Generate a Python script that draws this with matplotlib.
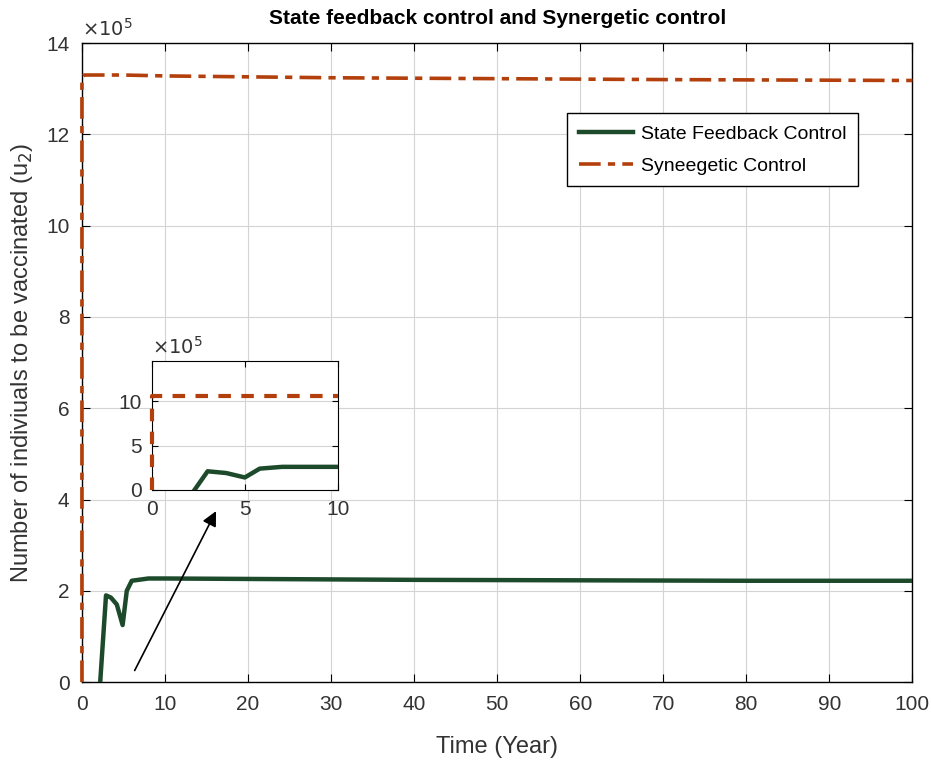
import matplotlib
matplotlib.use('Agg')
import matplotlib.pyplot as plt

plt.rcParams['font.family'] = ['Liberation Sans Narrow', 'Liberation Sans', 'DejaVu Sans']

# --- datos (unidades x10^5) ---
t_sfc = [2.2, 2.9, 3.5, 4.2, 4.9, 5.4, 6.0, 8.0, 10, 20, 40, 60, 80, 100]
u_sfc = [0, 1.9, 1.85, 1.7, 1.25, 2.0, 2.22, 2.27, 2.27, 2.26, 2.24, 2.23, 2.22, 2.22]

t_syn = [0, 0, 0.3, 5, 10, 30, 50, 70, 100]
u_syn = [0, 13.25, 13.3, 13.3, 13.28, 13.24, 13.22, 13.2, 13.18]

# inset (zoom 0-10 anos)
t_in_sfc = [2.3, 3.0, 4.0, 5.0, 5.8, 7.0, 10]
u_in_sfc = [0, 2.1, 1.9, 1.4, 2.4, 2.6, 2.6]
t_in_syn = [0, 0, 10]
u_in_syn = [0, 10.6, 10.6]

green = '#1e4a2c'
red = '#b3400c'
txt = '#333333'

fig = plt.figure(figsize=(9.31, 7.69), dpi=100)
ax = fig.add_axes([0.088, 0.113, 0.892, 0.831])

ax.plot(t_sfc, u_sfc, color=green, lw=3.2, label='State Feedback Control', zorder=3)
ax.plot(t_syn, u_syn, color=red, lw=2.6, ls=(0, (6, 2, 2, 2)), label='Syneegetic Control',
        clip_on=False, zorder=4)

ax.set_xlim(0, 100)
ax.set_ylim(0, 14)
ax.set_xticks(range(0, 101, 10))
ax.set_yticks(range(0, 15, 2))
ax.grid(True, color='#d4d4d4', lw=0.8)
ax.tick_params(direction='in', top=True, right=True, labelsize=15, length=6, pad=9,
               labelcolor=txt)
for s in ax.spines.values():
    s.set_linewidth(1.0)
ax.text(0.0, 1.005, r'$\times10^5$', transform=ax.transAxes, fontsize=14, color=txt,
        ha='left', va='bottom')
ax.set_xlabel('Time (Year)', fontsize=17, color=txt, labelpad=16)
ax.set_ylabel(r'Number of indiviuals to be vaccinated (u$_2$)', fontsize=17, color=txt,
              labelpad=8)
ax.set_title('State feedback control and Synergetic control', fontsize=15, fontweight='bold', pad=14)

leg = ax.legend(loc='upper right', bbox_to_anchor=(0.935, 0.89), borderaxespad=0,
                fontsize=14, frameon=True, fancybox=False, edgecolor='black',
                handlelength=2.8, handletextpad=0.4, borderpad=0.6,
                labelspacing=0.75, framealpha=1)
leg.get_frame().set_linewidth(1.0)

# --- inset ---
axi = fig.add_axes([0.163, 0.363, 0.2, 0.168])
axi.plot(t_in_sfc, u_in_sfc, color=green, lw=3.2, zorder=3)
axi.plot(t_in_syn, u_in_syn, color=red, lw=3, ls=(0, (3, 2.5)), clip_on=False, zorder=4)
axi.set_xlim(0, 10)
axi.set_ylim(0, 14.6)
axi.set_xticks([0, 5, 10])
axi.set_yticks([0, 5, 10])
axi.grid(True, color='#d4d4d4', lw=0.8)
axi.tick_params(direction='in', top=True, right=True, labelsize=15, length=4, pad=7,
                labelcolor=txt)
axi.text(0.0, 1.02, r'$\times10^5$', transform=axi.transAxes, fontsize=14, color=txt,
         ha='left', va='bottom')

# flecha hacia el inset
ax.annotate('', xy=(16.3, 3.8), xytext=(6.2, 0.2),
            arrowprops=dict(arrowstyle='-|>', color='black', lw=1.2, mutation_scale=22))

fig.savefig('out.png', dpi=100)
